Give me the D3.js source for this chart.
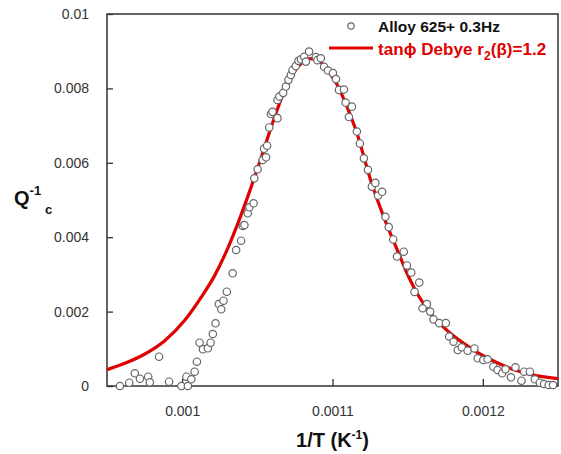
<!DOCTYPE html>
<html>
<head>
<meta charset="utf-8">
<script src="https://cdn.jsdelivr.net/npm/d3@7"></script>
<style>
  body { margin: 0; background: #fff; }
  text { font-family: "Liberation Sans", Arial, sans-serif; }
</style>
</head>
<body>
<script>
'use strict';

// measured points: 1/T (K^-1) and Q^-1_c
const pointX = [
  0.0009586, 0.0009648, 0.0009685, 0.0009719, 0.0009774, 0.0009785, 0.0009846, 0.0009913,
  0.0009995, 0.0010028, 0.0010038, 0.0010061, 0.0010083, 0.0010098, 0.0010116, 0.0010138,
  0.0010171, 0.0010189, 0.0010204, 0.0010222, 0.0010244, 0.0010260, 0.0010275, 0.0010297,
  0.0010336, 0.0010359, 0.0010392, 0.0010403, 0.0010414, 0.0010436, 0.0010447, 0.0010475,
  0.0010480, 0.0010502, 0.0010535, 0.0010558, 0.0010545, 0.0010565, 0.0010579, 0.0010590,
  0.0010601, 0.0010634, 0.0010634, 0.0010646, 0.0010672, 0.0010690, 0.0010707, 0.0010723,
  0.0010734, 0.0010756, 0.0010774, 0.0010790, 0.0010812, 0.0010823, 0.0010844, 0.0010889,
  0.0010899, 0.0010922, 0.0010944, 0.0010970, 0.0011003, 0.0011023, 0.0011043, 0.0011076,
  0.0011087, 0.0011129, 0.0011109, 0.0011162, 0.0011182, 0.0011209, 0.0011236, 0.0011262,
  0.0011285, 0.0011303, 0.0011330, 0.0011352, 0.0011374, 0.0011404, 0.0011429, 0.0011474,
  0.0011495, 0.0011524, 0.0011577, 0.0011546, 0.0011628, 0.0011599, 0.0011650, 0.0011672,
  0.0011710, 0.0011754, 0.0011776, 0.0011805, 0.0011833, 0.0011860, 0.0011899, 0.0011944,
  0.0011966, 0.0012003, 0.0012032, 0.0012070, 0.0012098, 0.0012129, 0.0012151, 0.0012187,
  0.0012217, 0.0012257, 0.0012275, 0.0012313, 0.0012346, 0.0012379, 0.0012407, 0.0012438,
  0.0012467
];
const pointY = [
  0.0000000, 0.0000890, 0.0003410, 0.0001960, 0.0002500, 0.0000990, 0.0007880, 0.0001160,
  0.0000000, 0.0002500, 0.0000000, 0.0001800, 0.0003840, 0.0006530, 0.0011640, 0.0009870,
  0.0010130, 0.0011640, 0.0013980, 0.0016850, 0.0022040, 0.0020620, 0.0022930, 0.0025350,
  0.0030300, 0.0036560, 0.0039060, 0.0043010, 0.0043280, 0.0046420, 0.0048040, 0.0049110,
  0.0055830, 0.0058250, 0.0060750, 0.0061480, 0.0063800, 0.0064600, 0.0069500, 0.0073100,
  0.0073700, 0.0072000, 0.0076900, 0.0077800, 0.0078800, 0.0080500, 0.0082300, 0.0083600,
  0.0084900, 0.0086000, 0.0087400, 0.0087800, 0.0088500, 0.0087200, 0.0089900, 0.0088400,
  0.0087600, 0.0088100, 0.0085800, 0.0084800, 0.0084100, 0.0082500, 0.0079600, 0.0079700,
  0.0076200, 0.0075100, 0.0072300, 0.0068400, 0.0065200, 0.0061200, 0.0058100, 0.0053600,
  0.0054600, 0.0051200, 0.0052200, 0.0045500, 0.0042700, 0.0039400, 0.0034800, 0.0036100,
  0.0032400, 0.0030500, 0.0027800, 0.0025300, 0.0022000, 0.0020900, 0.0020000, 0.0017900,
  0.0016900, 0.0016900, 0.0013300, 0.0011900, 0.0009680, 0.0010400, 0.0009490, 0.0010100,
  0.0007450, 0.0006990, 0.0007180, 0.0005190, 0.0004300, 0.0003410, 0.0004490, 0.0002340,
  0.0005030, 0.0001420, 0.0003840, 0.0003840, 0.0001800, 0.0000890, 0.0000540, 0.0000270,
  0.0000270
];

// fitted tan(phi) Debye curve
const curveX = [
  0.000950, 0.0009619, 0.0009752, 0.0009884, 0.0010017, 0.0010127, 0.0010215, 0.0010303,
  0.0010392, 0.0010458, 0.0010525, 0.0010579, 0.0010624, 0.0010668, 0.0010712, 0.0010778,
  0.0010851, 0.0010911, 0.0010955, 0.0011021, 0.0011087, 0.0011154, 0.0011264, 0.0011352,
  0.0011440, 0.0011507, 0.0011573, 0.0011661, 0.0011772, 0.0011882, 0.0011992, 0.0012103,
  0.0012213, 0.0012323, 0.0012500
];
const curveY = [
  0.000440, 0.000610, 0.000860, 0.001218, 0.001765, 0.002390, 0.002960, 0.003700,
  0.004600, 0.005340, 0.006130, 0.006800, 0.007330, 0.007810, 0.008200, 0.008610,
  0.008800, 0.008740, 0.008540, 0.008170, 0.007600, 0.006900, 0.005400, 0.004430,
  0.003570, 0.002930, 0.002420, 0.001910, 0.001460, 0.001120, 0.000833, 0.000610,
  0.000430, 0.000305, 0.000200
];

const xTicks = [0.001, 0.0011, 0.0012];
const xTickLabels = ["0.001", "0.0011", "0.0012"];
const yTicks = [0, 0.002, 0.004, 0.006, 0.008, 0.01];
const yTickLabels = ["0", "0.002", "0.004", "0.006", "0.008", "0.01"];

const seriesNames = ["Alloy 625+ 0.3Hz", "tan\u03D5 Debye r"];

const width = 561, height = 454;
const box = { left: 107, right: 558, top: 14, bottom: 386 };

const svg = d3.select('body').append('svg')
  .attr('width', width)
  .attr('height', height);

const x = d3.scaleLinear().domain([0.00095, 0.00125]).range([box.left, box.right]);
const y = d3.scaleLinear().domain([0, 0.01]).range([box.bottom, box.top]);

// axes with inward ticks
const xAxis = d3.axisBottom(x).tickValues(xTicks)
  .tickFormat((d, i) => xTickLabels[i]).tickSizeInner(-7).tickSizeOuter(0).tickPadding(20);
const gx = svg.append('g').attr('transform', `translate(0,${box.bottom})`).call(xAxis);

const yAxis = d3.axisLeft(y).tickValues(yTicks)
  .tickFormat((d, i) => yTickLabels[i]).tickSizeInner(-6).tickSizeOuter(0).tickPadding(18);
const gy = svg.append('g').attr('transform', `translate(${box.left},0)`).call(yAxis);

[gx, gy].forEach(g => {
  g.select('.domain').remove();
  g.selectAll('line').attr('stroke', '#333').attr('stroke-width', 1.3);
  g.selectAll('text').attr('fill', '#333').style('font-size', '14px')
    .style('font-family', '"Liberation Sans", Arial, sans-serif');
});

// frame
svg.append('rect')
  .attr('x', box.left).attr('y', box.top)
  .attr('width', box.right - box.left).attr('height', box.bottom - box.top)
  .attr('fill', 'none').attr('stroke', '#333').attr('stroke-width', 1.5);

// clip so the curve stays inside the box
svg.append('clipPath').attr('id', 'plot-clip')
  .append('rect').attr('x', box.left).attr('y', box.top)
  .attr('width', box.right - box.left).attr('height', box.bottom - box.top);

const curveData = curveX.map((v, i) => [v, curveY[i]]);
const line = d3.line()
  .x(d => x(d[0]))
  .y(d => y(d[1]))
  .curve(d3.curveMonotoneX);

svg.append('path')
  .datum(curveData)
  .attr('clip-path', 'url(#plot-clip)')
  .attr('d', line)
  .attr('fill', 'none')
  .attr('stroke', '#e00000')
  .attr('stroke-width', 3.2);

const points = pointX.map((v, i) => ({ x: v, y: pointY[i] }));
svg.append('g').selectAll('circle')
  .data(points)
  .enter()
  .append('circle')
    .attr('cx', d => x(d.x))
    .attr('cy', d => y(d.y))
    .attr('r', 3.7)
    .attr('fill', '#fff')
    .attr('stroke', '#666')
    .attr('stroke-width', 1.2);

// legend
svg.append('circle')
  .attr('cx', 351).attr('cy', 26).attr('r', 3.2)
  .attr('fill', '#fff').attr('stroke', '#666').attr('stroke-width', 1.2);
svg.append('text')
  .attr('x', 378).attr('y', 32)
  .style('font-size', '15.5px').style('font-weight', 'bold').attr('fill', '#111')
  .text(seriesNames[0]);

svg.append('line')
  .attr('x1', 329).attr('x2', 373).attr('y1', 48).attr('y2', 48)
  .attr('stroke', '#e00000').attr('stroke-width', 3.2);
const leg2 = svg.append('text')
  .attr('x', 378).attr('y', 55)
  .style('font-size', '17px').style('font-weight', 'bold')
  .style('letter-spacing', '0.05px').attr('fill', '#e00000');
leg2.append('tspan').text(seriesNames[1]);
leg2.append('tspan').attr('dy', 5).style('font-size', '12px').text('2');
leg2.append('tspan').attr('dy', -5).text('(\u03B2)=1.2');

// axis titles
const xt = svg.append('text')
  .attr('x', (box.left + box.right) / 2).attr('y', 447)
  .attr('text-anchor', 'middle')
  .style('font-size', '20px').style('font-weight', 'bold').attr('fill', '#111');
xt.append('tspan').text('1/T (K');
xt.append('tspan').attr('dy', -8).style('font-size', '12px').text('-1');
xt.append('tspan').attr('dy', 8).text(')');

const yt = svg.append('text')
  .attr('x', 14).attr('y', 205)
  .style('font-size', '20px').style('font-weight', 'bold').attr('fill', '#111');
yt.append('tspan').text('Q');
yt.append('tspan').attr('dy', -10).style('font-size', '13px').text('-1');
yt.append('tspan').attr('x', 45).attr('dy', 19).style('font-size', '13px').text('c');
</script>
</body>
</html>
